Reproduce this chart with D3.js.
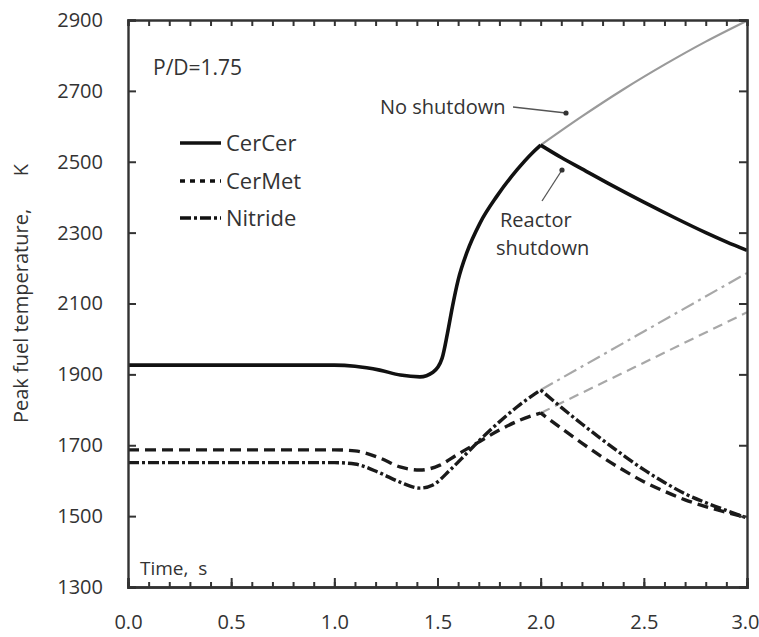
<!DOCTYPE html>
<html>
<head>
<meta charset="utf-8">
<script src="https://cdn.jsdelivr.net/npm/d3@7"></script>
<style>
  html, body { margin: 0; padding: 0; background: #fff; }
  svg { display: block; }
  text { font-family: "Open Sans", "Noto Sans", sans-serif; fill: #333; }
</style>
</head>
<body>
<svg id="chart" width="759" height="637"></svg>
<script>
// ---------- data ----------
const categories = ["CerCer", "CerMet", "Nitride"];
const shutdownTime = 2.0;

// CerCer with reactor shutdown at t = 2.0 s
const cercerTime = [0.0, 0.5, 1.0, 1.1, 1.22, 1.32, 1.415, 1.478, 1.522, 1.548, 1.572, 1.6, 1.643, 1.706, 1.788, 1.885, 1.963, 2.0,
                    2.1, 2.2, 2.35, 2.5, 2.65, 2.8, 2.9, 3.0];
const cercerTemp = [1926, 1926, 1926, 1923, 1912, 1898, 1893, 1906, 1945, 2015, 2090, 2166, 2245, 2327, 2403, 2477, 2527, 2547,
                    2512, 2480, 2432, 2386, 2342, 2300, 2274, 2250];
// CerCer without shutdown
const cercerNoShutTime = [2.0, 2.2, 2.4, 2.6, 2.8, 3.0];
const cercerNoShutTemp = [2547, 2628, 2704, 2774, 2839, 2898];

// CerMet with shutdown
const cermetTime = [0.0, 0.5, 1.0, 1.1, 1.22, 1.318, 1.415, 1.512, 1.594, 1.691, 1.8, 1.9, 2.0,
                    2.1, 2.2, 2.3, 2.4, 2.5, 2.6, 2.7, 2.8, 2.9, 3.0];
const cermetTemp = [1687, 1687, 1687, 1684, 1664, 1639, 1630, 1644, 1673, 1706, 1743, 1771, 1791,
                    1748, 1706, 1666, 1630, 1597, 1570, 1546, 1527, 1511, 1496];
const cermetNoShutTime = [2.0, 2.5, 3.0];
const cermetNoShutTemp = [1791, 1933, 2075];

// Nitride with shutdown
const nitrideTime = [0.0, 0.5, 1.0, 1.1, 1.22, 1.318, 1.415, 1.478, 1.561, 1.643, 1.72, 1.8, 1.885, 2.0,
                     2.1, 2.2, 2.3, 2.4, 2.5, 2.6, 2.7, 2.8, 2.9, 3.0];
const nitrideTemp = [1651, 1651, 1651, 1647, 1622, 1596, 1579, 1588, 1630, 1678, 1723, 1766, 1808, 1856,
                     1807, 1760, 1715, 1672, 1631, 1595, 1563, 1538, 1516, 1495];
const nitrideNoShutTime = [2.0, 2.5, 3.0];
const nitrideNoShutTemp = [1856, 2021, 2186];

const xMajorTicks = [0.0, 0.5, 1.0, 1.5, 2.0, 2.5, 3.0];
const xMinorTicks = d3.range(0, 31).map(i => i / 10);
const yTicks = [1300, 1500, 1700, 1900, 2100, 2300, 2500, 2700, 2900];

// ---------- layout ----------
const svg = d3.select("#chart");
const L = 128, R = 747, T = 20, B = 587;
const x = d3.scaleLinear().domain([0, 3]).range([L, R]);
const y = d3.scaleLinear().domain([1300, 2900]).range([B, T]);

const zip = (ts, vs) => ts.map((t, i) => [t, vs[i]]);
const line = d3.line().x(d => x(d[0])).y(d => y(d[1])).curve(d3.curveMonotoneX);
// a transient with a sharp corner at the shutdown time
function shutdownPath(ts, vs) {
  const pts = zip(ts, vs);
  const before = pts.filter(p => p[0] <= shutdownTime);
  const after = pts.filter(p => p[0] >= shutdownTime);
  const a = line(before);
  const b = line(after).replace(/^M[^A-Za-z]*/, "L" + x(shutdownTime) + "," + y(after[0][1]));
  return a + b;
}

// no-shutdown (gray) curves first
svg.append("path").attr("d", line(zip(cercerNoShutTime, cercerNoShutTemp)))
  .attr("fill", "none").attr("stroke", "#9a9a9a").attr("stroke-width", 2.2);
svg.append("path").attr("d", line(zip(nitrideNoShutTime, nitrideNoShutTemp)))
  .attr("fill", "none").attr("stroke", "#a8a8a8").attr("stroke-width", 2.2)
  .attr("stroke-dasharray", "14,5,3,5");
svg.append("path").attr("d", line(zip(cermetNoShutTime, cermetNoShutTemp)))
  .attr("fill", "none").attr("stroke", "#a8a8a8").attr("stroke-width", 2.2)
  .attr("stroke-dasharray", "10,6");

// main curves
svg.append("path").attr("d", shutdownPath(cermetTime, cermetTemp))
  .attr("fill", "none").attr("stroke", "#1a1a1a").attr("stroke-width", 3.4)
  .attr("stroke-dasharray", "11,6").attr("stroke-linejoin", "miter");
svg.append("path").attr("d", shutdownPath(nitrideTime, nitrideTemp))
  .attr("fill", "none").attr("stroke", "#1a1a1a").attr("stroke-width", 3.4)
  .attr("stroke-dasharray", "11,3,3,3").attr("stroke-linejoin", "miter");
svg.append("path").attr("d", shutdownPath(cercerTime, cercerTemp))
  .attr("fill", "none").attr("stroke", "#111").attr("stroke-width", 3.6)
  .attr("stroke-linejoin", "miter");

// ---------- axes ----------
const axisColor = "#333";
function styleAxis(g) {
  g.selectAll(".domain").attr("stroke", axisColor).attr("stroke-width", 2.4);
  g.selectAll(".tick line").attr("stroke", axisColor).attr("stroke-width", 2);
  g.selectAll(".tick text").attr("font-size", 20).attr("fill", "#333")
    .attr("font-family", "'Open Sans', 'Noto Sans', sans-serif");
}
// bottom: minor ticks
svg.append("g").attr("transform", `translate(0,${B})`)
  .call(d3.axisBottom(x).tickValues(xMinorTicks).tickSize(-5).tickFormat(""))
  .call(styleAxis);
// bottom: major ticks + labels
const xAxisG = svg.append("g").attr("transform", `translate(0,${B})`)
  .call(d3.axisBottom(x).tickValues(xMajorTicks).tickSize(-9).tickPadding(28).tickFormat(d3.format(".1f")))
  .call(styleAxis);
// keep the last label inside the picture
xAxisG.selectAll(".tick text").filter(d => d === 3).attr("text-anchor", "end").attr("x", 12);
// top: ticks every 0.1
svg.append("g").attr("transform", `translate(0,${T})`)
  .call(d3.axisTop(x).tickValues(xMinorTicks).tickSize(-6).tickFormat(""))
  .call(styleAxis);
// left
svg.append("g").attr("transform", `translate(${L},0)`)
  .call(d3.axisLeft(y).tickValues(yTicks).tickSize(-8).tickPadding(25).tickFormat(d3.format("d")))
  .call(styleAxis);
// right
svg.append("g").attr("transform", `translate(${R},0)`)
  .call(d3.axisRight(y).tickValues(yTicks).tickSize(-8).tickFormat(""))
  .call(styleAxis);

// ---------- texts ----------
svg.append("text").attr("x", 153).attr("y", 75).attr("font-size", 21).text("P/D=1.75");

svg.append("text").attr("x", 140).attr("y", 575).attr("font-size", 19).attr("xml:space", "preserve").text("Time,  s");

svg.append("text").attr("transform", "translate(28,316) rotate(-90)")
  .attr("text-anchor", "middle").attr("font-size", 20).text("Peak fuel temperature,");
svg.append("text").attr("transform", "translate(28,170) rotate(-90)")
  .attr("text-anchor", "middle").attr("font-size", 20).text("K");

// legend
const legendStyles = [
  { dash: null, y: 143 },
  { dash: "5,5", y: 181 },
  { dash: "11,3,3,3", y: 218 }
];
categories.forEach((c, i) => {
  const s = legendStyles[i];
  const ln = svg.append("line").attr("x1", 180).attr("x2", 221)
    .attr("y1", s.y).attr("y2", s.y)
    .attr("stroke", "#111").attr("stroke-width", 3.6);
  if (s.dash) ln.attr("stroke-dasharray", s.dash);
  svg.append("text").attr("x", 226).attr("y", s.y + 8).attr("font-size", 22).text(c);
});

// annotations
svg.append("text").attr("x", 380).attr("y", 114).attr("font-size", 20).text("No shutdown");
svg.append("line").attr("x1", 513).attr("y1", 107).attr("x2", 566).attr("y2", 113)
  .attr("stroke", "#555").attr("stroke-width", 1.3);
svg.append("circle").attr("cx", 566).attr("cy", 113).attr("r", 2.6).attr("fill", "#333");

svg.append("text").attr("x", 500).attr("y", 227).attr("font-size", 20).text("Reactor");
svg.append("text").attr("x", 496).attr("y", 255).attr("font-size", 20).text("shutdown");
svg.append("line").attr("x1", 542).attr("y1", 201).attr("x2", 562).attr("y2", 170)
  .attr("stroke", "#555").attr("stroke-width", 1.3);
svg.append("circle").attr("cx", 562).attr("cy", 170).attr("r", 2.6).attr("fill", "#333");
</script>
</body>
</html>
